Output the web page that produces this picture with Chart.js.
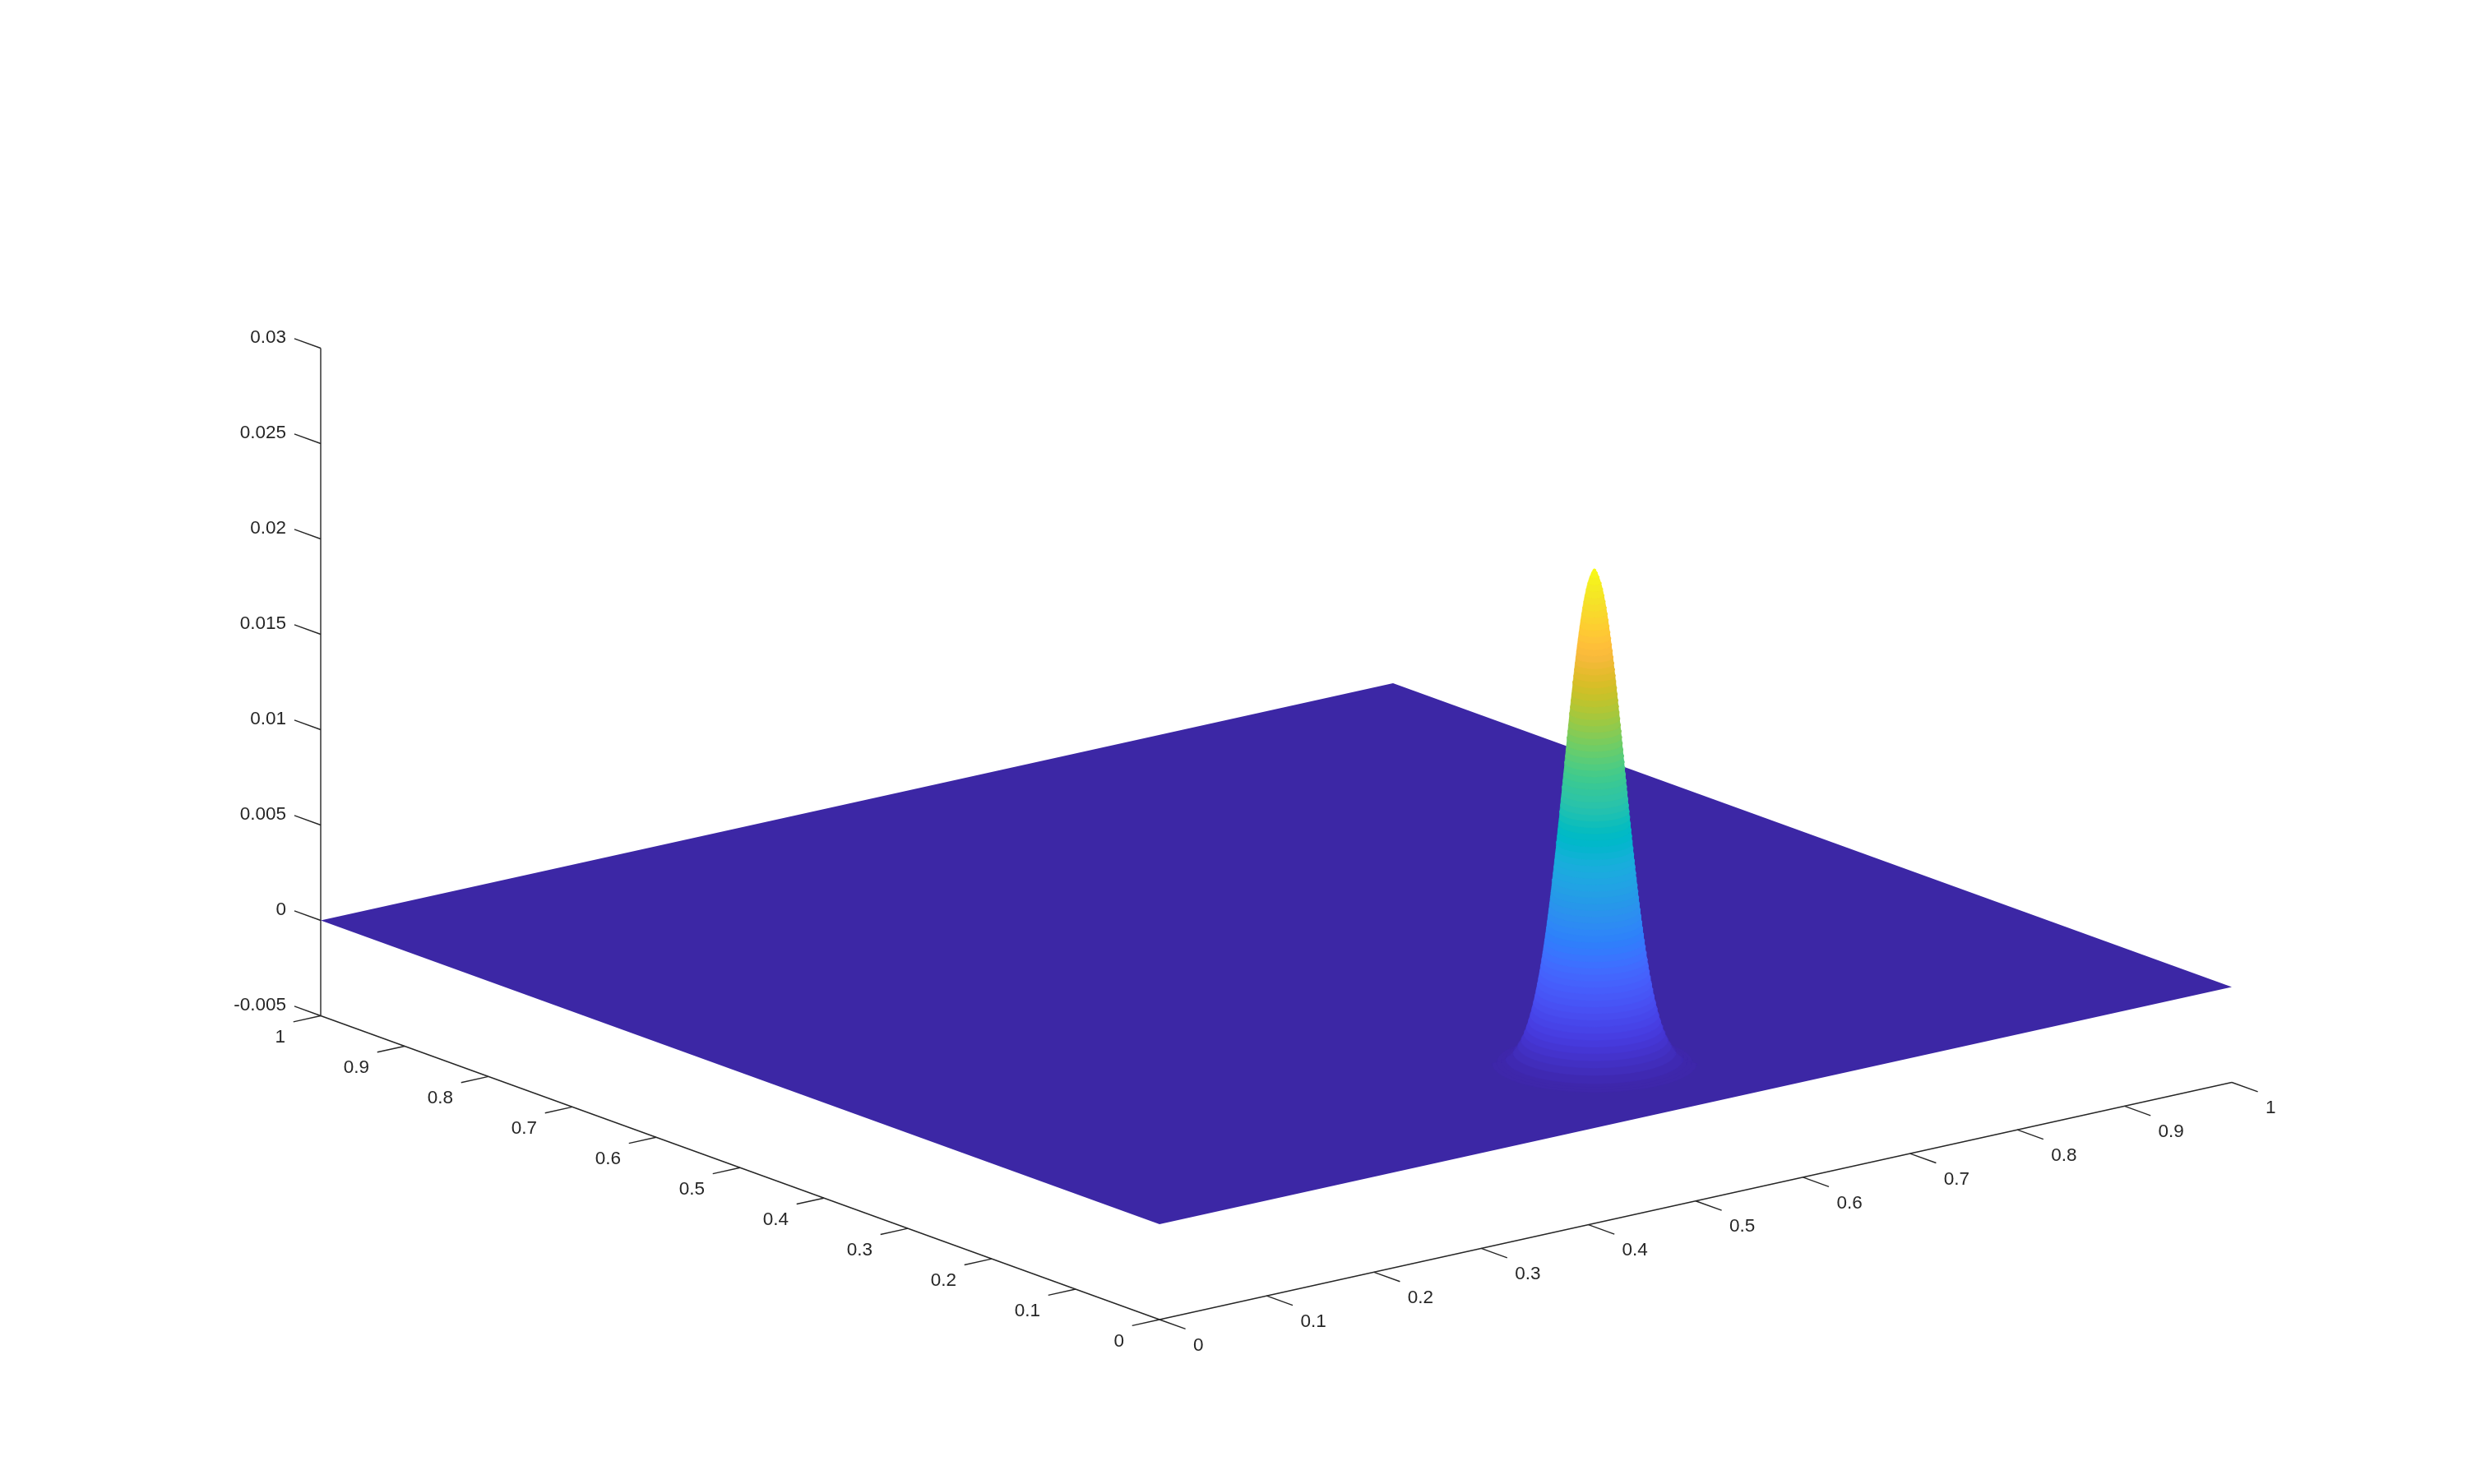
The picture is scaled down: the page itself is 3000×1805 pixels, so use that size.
<!DOCTYPE html>
<html>
<head>
<meta charset="utf-8">
<style>html,body{margin:0;padding:0;background:#fff}canvas{display:block}</style>
<script src="https://cdn.jsdelivr.net/npm/chart.js@4"></script>
</head>
<body>
<canvas id="c" width="3000" height="1805"></canvas>
<script>
// ---- tick values and labels ----
const xTicks = [0,0.1,0.2,0.3,0.4,0.5,0.6,0.7,0.8,0.9,1];
const xTickLabels = ['0','0.1','0.2','0.3','0.4','0.5','0.6','0.7','0.8','0.9','1'];
const yTicks = [0,0.1,0.2,0.3,0.4,0.5,0.6,0.7,0.8,0.9,1];
const yTickLabels = ['0','0.1','0.2','0.3','0.4','0.5','0.6','0.7','0.8','0.9','1'];
const zTicks = [-0.005,0,0.005,0.01,0.015,0.02,0.025,0.03];
const zTickLabels = ['-0.005','0','0.005','0.01','0.015','0.02','0.025','0.03'];

// ---- flat sheet corners (x, y, z) ----
const sheetX = [0,1,1,0];
const sheetY = [0,0,1,1];
const sheetZ = [0,0,0,0];

// ---- peak: location, and radius at each height ----
const peakCentreX = 0.5068;
const peakCentreY = 0.1293;
const peakTop = 0.0260;
const peakHeight = [0.000078,0.000130,0.000207,0.000324,0.000648,0.000971,0.001295,0.001619,0.001943,0.002266,0.002590,0.002914,0.003238,0.003561,0.003885,0.004209,0.004533,0.004856,0.005180,0.005504,0.005828,0.006151,0.006475,0.006799,0.007123,0.007446,0.007770,0.008094,0.008418,0.008741,0.009065,0.009389,0.009713,0.010036,0.010360,0.010684,0.011008,0.011331,0.011655,0.011979,0.012303,0.012626,0.012950,0.013274,0.013598,0.013921,0.014245,0.014569,0.014893,0.015216,0.015540,0.015864,0.016188,0.016511,0.016835,0.017159,0.017483,0.017806,0.018130,0.018454,0.018778,0.019101,0.019425,0.019749,0.020073,0.020396,0.020720,0.021044,0.021368,0.021691,0.022015,0.022339,0.022663,0.022986,0.023310,0.023634,0.023958,0.024281,0.024605,0.024929,0.025253,0.025576,0.025800,0.025950,0.026000];
const peakRadius = [0.0751,0.0717,0.0684,0.06521,0.05983,0.05644,0.05392,0.05187,0.05013,0.04862,0.04727,0.04604,0.04492,0.04388,0.04291,0.04199,0.04113,0.04030,0.03952,0.03877,0.03804,0.03735,0.03668,0.03603,0.03539,0.03478,0.03418,0.03360,0.03302,0.03246,0.03192,0.03138,0.03085,0.03033,0.02982,0.02931,0.02881,0.02832,0.02784,0.02735,0.02688,0.02640,0.02593,0.02547,0.02500,0.02454,0.02409,0.02363,0.02317,0.02272,0.02226,0.02181,0.02136,0.02090,0.02045,0.01999,0.01953,0.01907,0.01860,0.01814,0.01767,0.01719,0.01671,0.01622,0.01573,0.01523,0.01472,0.01420,0.01366,0.01312,0.01256,0.01198,0.01138,0.01076,0.01011,0.00943,0.00870,0.00791,0.00706,0.00609,0.00496,0.00350,0.00220,0.00110,0.00010];

// ---- colour table for height (0 = lowest, last = highest) ----
const colourTable = [[.2422,.1504,.6603],[.2504,.1650,.7076],[.2578,.1818,.7511],[.2647,.1978,.7952],[.2706,.2147,.8364],[.2751,.2342,.8710],[.2783,.2559,.8991],[.2803,.2782,.9221],[.2813,.3006,.9414],[.2810,.3228,.9579],[.2795,.3447,.9717],[.2760,.3667,.9829],[.2699,.3892,.9906],[.2602,.4123,.9952],[.2440,.4358,.9988],[.2206,.4603,.9973],[.1963,.4847,.9892],[.1834,.5074,.9798],[.1786,.5289,.9682],[.1764,.5499,.9520],[.1687,.5703,.9359],[.1540,.5902,.9218],[.1460,.6091,.9079],[.1380,.6276,.8973],[.1248,.6459,.8883],[.1113,.6635,.8763],[.0952,.6798,.8598],[.0689,.6948,.8394],[.0297,.7082,.8163],[.0036,.7203,.7917],[.0067,.7312,.7660],[.0433,.7411,.7394],[.0964,.7500,.7120],[.1408,.7584,.6842],[.1717,.7670,.6554],[.1938,.7758,.6251],[.2161,.7843,.5923],[.2470,.7918,.5567],[.2906,.7973,.5188],[.3406,.8008,.4789],[.3909,.8029,.4354],[.4456,.8024,.3909],[.5044,.7993,.3480],[.5616,.7942,.3045],[.6174,.7876,.2612],[.6720,.7793,.2227],[.7242,.7698,.1910],[.7738,.7598,.1646],[.8203,.7498,.1535],[.8634,.7406,.1596],[.9035,.7330,.1774],[.9393,.7288,.2100],[.9728,.7294,.2394],[.9956,.7407,.2242],[.9970,.7659,.2199],[.9952,.7893,.2028],[.9892,.8136,.1885],[.9786,.8386,.1766],[.9676,.8639,.1643],[.9610,.8890,.1537],[.9597,.9135,.1423],[.9628,.9373,.1265],[.9691,.9606,.1064],[.9769,.9839,.0805]];

// ---- view: orthographic projection of (x, y, z) onto the page scales ----
const view = {ox:1410, oy:1489, xx:1304, xy:-288.5, yx:-1020, yy:-369.5, zy:-23200};
const zFloor = -0.005, zCeil = 0.03;
const ink = '#262626';
const project = (x,y,z) => ({x: view.ox + view.xx*x + view.yx*y,
                             y: view.oy + view.xy*x + view.yy*y + view.zy*z});
const xTickLen = 0.031, yTickLen = 0.0255, zTickLen = 0.0314;

function colourAt(z){
  const t = Math.max(0,Math.min(1,z/peakTop))*(colourTable.length-1);
  const i = Math.min(colourTable.length-2,Math.floor(t)), f = t-i;
  const c = colourTable[i].map((v,k)=>Math.round(255*(v+(colourTable[i+1][k]-v)*f)));
  return `rgb(${c[0]},${c[1]},${c[2]})`;
}

let order = 100000;
const datasets = [];
function line(points,width){
  datasets.push({data:points,showLine:true,pointRadius:0,borderColor:ink,borderWidth:width,fill:false,order:order--,tension:0});
}
// box edges
line([project(0,1,zFloor),project(0,1,zCeil)],1.4);
line([project(0,1,zFloor),project(0,0,zFloor)],1.4);
line([project(0,0,zFloor),project(1,0,zFloor)],1.4);
// tick marks
xTicks.forEach(t=>line([project(t,0,zFloor),project(t,-xTickLen,zFloor)],1.4));
yTicks.forEach(t=>line([project(0,t,zFloor),project(-yTickLen,t,zFloor)],1.4));
zTicks.forEach(t=>line([project(0,1,t),project(0,1+zTickLen,t)],1.4));
// sheet
datasets.push({data:sheetX.map((v,i)=>project(v,sheetY[i],sheetZ[i])),showLine:true,pointRadius:0,borderWidth:0,
  backgroundColor:'rgb(60,39,165)',borderColor:'rgb(60,39,165)',fill:'shape',order:order--,tension:0});
// peak: one band per stored height, lowest first so that higher bands cover lower ones.
// Each band runs along the near half of its level and back along the far half of the next level up.
const sideAngle = Math.atan2(view.yx,view.xx); // direction of the silhouette on the page
const halfTurn = Array.from({length:49},(_,i)=>i/48*Math.PI);
peakHeight.forEach((z,i)=>{
  const r = peakRadius[i];
  const nz = i+1<peakHeight.length ? peakHeight[i+1] : z;
  const nr = i+1<peakRadius.length ? peakRadius[i+1] : r;
  const near = halfTurn.map(a=>project(peakCentreX+r*Math.cos(sideAngle-a),peakCentreY+r*Math.sin(sideAngle-a),z));
  const far = halfTurn.map(a=>project(peakCentreX+nr*Math.cos(sideAngle-Math.PI-a),peakCentreY+nr*Math.sin(sideAngle-Math.PI-a),nz));
  const col = i<3 ? colourAt(z*0.5) : colourAt(z);
  datasets.push({data:near.concat(far),showLine:true,pointRadius:0,borderWidth:0.6,backgroundColor:col,borderColor:col,fill:'shape',order:order--,tension:0});
});

const tickText = {
  id:'tickText',
  afterDatasetsDraw(chart){
    const {ctx,scales:{x:sx,y:sy}} = chart;
    ctx.save();
    ctx.fillStyle = ink;
    ctx.font = '22.5px "Liberation Sans", Arial, sans-serif';
    ctx.textBaseline = 'middle';
    const put = (p,dx,dy,s,al)=>{ctx.textAlign=al;ctx.fillText(s,sx.getPixelForValue(p.x)+dx,sy.getPixelForValue(p.y)+dy);};
    xTicks.forEach((t,i)=>put(project(t,0,zFloor),41,31.5,xTickLabels[i],'left'));
    yTicks.forEach((t,i)=>put(project(0,t,zFloor),-43,26.5,yTickLabels[i],'right'));
    zTicks.forEach((t,i)=>put(project(0,1,t),-42,-12.5,zTickLabels[i],'right'));
    ctx.restore();
  }
};

new Chart(document.getElementById('c'),{
  type:'scatter',
  data:{datasets},
  plugins:[tickText],
  options:{
    responsive:false,animation:false,events:[],
    layout:{padding:0},
    scales:{
      x:{type:'linear',min:0,max:3000,display:false},
      y:{type:'linear',min:0,max:1805,reverse:true,display:false}
    },
    plugins:{legend:{display:false},tooltip:{enabled:false},title:{display:false},
      filler:{drawTime:'beforeDatasetDraw',propagate:false}}
  }
});
</script>
</body>
</html>
